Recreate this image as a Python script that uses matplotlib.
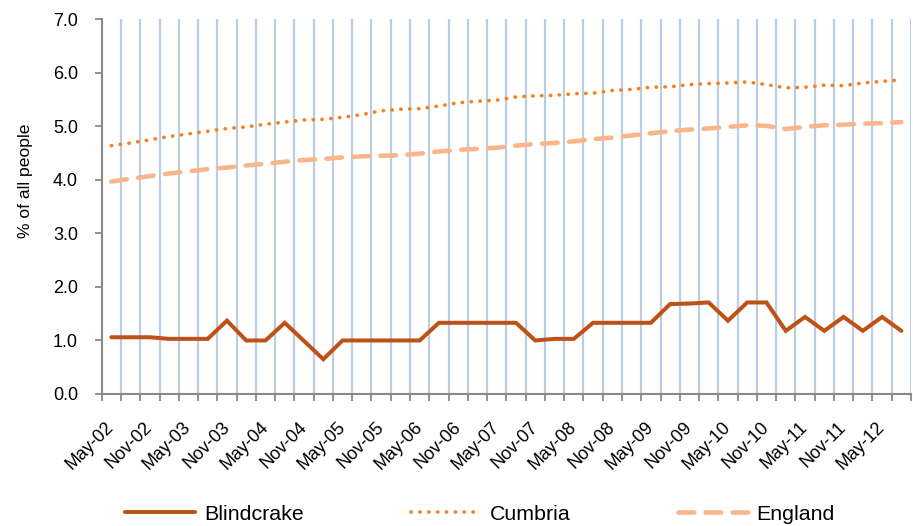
import matplotlib
matplotlib.use("Agg")
import matplotlib.pyplot as plt
from matplotlib.ticker import FixedLocator, NullFormatter, FixedFormatter

plt.rcParams['font.family'] = ['Liberation Sans', 'DejaVu Sans']

# ---- data (quarterly, May-02 .. Aug-12) ----
quarters = ["May-02", "Aug-02", "Nov-02", "Feb-03", "May-03", "Aug-03", "Nov-03", "Feb-04",
            "May-04", "Aug-04", "Nov-04", "Feb-05", "May-05", "Aug-05", "Nov-05", "Feb-06",
            "May-06", "Aug-06", "Nov-06", "Feb-07", "May-07", "Aug-07", "Nov-07", "Feb-08",
            "May-08", "Aug-08", "Nov-08", "Feb-09", "May-09", "Aug-09", "Nov-09", "Feb-10",
            "May-10", "Aug-10", "Nov-10", "Feb-11", "May-11", "Aug-11", "Nov-11", "Feb-12",
            "May-12", "Aug-12"]

blindcrake = [1.06, 1.06, 1.06, 1.03, 1.03, 1.03, 1.37, 1.00, 1.00, 1.33,
              0.99, 0.65, 1.00, 1.00, 1.00, 1.00, 1.00, 1.33, 1.33, 1.33,
              1.33, 1.33, 1.00, 1.03, 1.03, 1.33, 1.33, 1.33, 1.33, 1.68,
              1.69, 1.71, 1.37, 1.71, 1.71, 1.18, 1.44, 1.18, 1.44, 1.18,
              1.44, 1.18]

cumbria = [4.64, 4.69, 4.75, 4.81, 4.86, 4.91, 4.96, 4.99, 5.04, 5.08,
           5.12, 5.13, 5.17, 5.22, 5.29, 5.32, 5.33, 5.38, 5.44, 5.47,
           5.49, 5.55, 5.57, 5.58, 5.61, 5.62, 5.67, 5.69, 5.73, 5.74,
           5.78, 5.80, 5.81, 5.83, 5.78, 5.72, 5.73, 5.77, 5.76, 5.81,
           5.84, 5.87]

england = [3.97, 4.02, 4.07, 4.12, 4.16, 4.20, 4.23, 4.27, 4.30, 4.34,
           4.37, 4.39, 4.42, 4.44, 4.45, 4.46, 4.49, 4.53, 4.56, 4.58,
           4.60, 4.64, 4.67, 4.69, 4.72, 4.76, 4.79, 4.83, 4.87, 4.91,
           4.94, 4.96, 4.99, 5.02, 5.01, 4.95, 4.99, 5.02, 5.03, 5.05,
           5.06, 5.08]

yticks = [0.0, 1.0, 2.0, 3.0, 4.0, 5.0, 6.0, 7.0]
ytick_labels = ["0.0", "1.0", "2.0", "3.0", "4.0", "5.0", "6.0", "7.0"]
ylabel = "% of all people"

# ---- figure ----
fig = plt.figure(figsize=(9.13, 5.26), dpi=100)
ax = fig.add_axes([101.7 / 913, 1 - 394 / 526, (911 - 101.7) / 913, (394 - 19.3) / 526])

n = len(quarters)
x = list(range(n))

grid_color = "#B9CDE5"
for b in range(1, n + 1):
    ax.axvline(b - 0.5, color=grid_color, lw=1.6, zorder=0)

ax.plot(x, blindcrake, color="#BE5216", lw=2.9, solid_capstyle="round",
        solid_joinstyle="miter", label="Blindcrake", zorder=3)
ax.plot(x, cumbria, color="#F6801F", lw=2.6, linestyle=(0, (0.1, 2.35)),
        dash_capstyle="round", label="Cumbria", zorder=3)
ax.plot(x, england, color="#FAB68A", lw=3.3, linestyle=(0, (3.4, 2.5)),
        dash_capstyle="round", label="England", zorder=3)

ax.set_xlim(-0.5, n - 0.5)
ax.set_ylim(0, 7)

# x ticks: marks at category boundaries, labels every other category
ax.xaxis.set_major_locator(FixedLocator([b - 0.5 for b in range(n + 1)]))
ax.xaxis.set_major_formatter(NullFormatter())
lab_pos = x[::2]
ax.xaxis.set_minor_locator(FixedLocator(lab_pos))
ax.xaxis.set_minor_formatter(FixedFormatter([quarters[i] for i in lab_pos]))
ax.tick_params(axis="x", which="major", direction="out", length=5, width=1.3, color="#888888")
ax.tick_params(axis="x", which="minor", length=0, pad=22, labelsize=13)
for t in ax.xaxis.get_minorticklabels():
    t.set_rotation(45)
    t.set_ha("right")
    t.set_va("center")
    t.set_rotation_mode("anchor")

ax.set_yticks(yticks)
ax.set_yticklabels(ytick_labels)
ax.tick_params(axis="y", direction="out", length=5, width=1.3, color="#888888",
               pad=12, labelsize=13)

for s in ["top", "right"]:
    ax.spines[s].set_visible(False)
for s in ["left", "bottom"]:
    ax.spines[s].set_color("#888888")
    ax.spines[s].set_linewidth(1.5)

ax.set_ylabel(ylabel, fontsize=12.6)
ax.yaxis.set_label_coords(-0.0843, 0.569)

fig.legend(loc="center", bbox_to_anchor=(480 / 913, 1 - 514 / 526), ncol=3,
           frameon=False, fontsize=15.4, handlelength=3.3, handletextpad=0.4,
           columnspacing=5.0)

fig.savefig("out.png", dpi=100)
